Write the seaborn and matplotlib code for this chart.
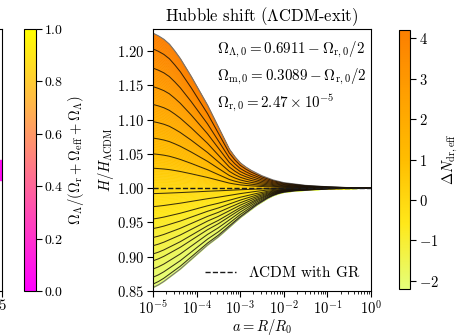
import numpy as np
import pandas as pd
import matplotlib
matplotlib.use("Agg")
import matplotlib.pyplot as plt
from matplotlib.ticker import LogLocator
import seaborn as sns

# -------------------------------------------
# data
# -------------------------------------------
log_a = [-5.0, -4.875, -4.75, -4.625, -4.5, -4.375, -4.25, -4.125,
         -4.0, -3.875, -3.75, -3.625, -3.5, -3.375, -3.25, -3.125,
         -3.0, -2.875, -2.75, -2.625, -2.5, -2.375, -2.25, -2.125,
         -2.0, -1.75, -1.5, -1.25, -1.0, -0.5, 0.0]

# upper edge of the band (largest Delta N)
h_top = [1.226, 1.222, 1.217, 1.210, 1.200, 1.189, 1.176, 1.163,
         1.149, 1.135, 1.121, 1.105, 1.089, 1.073, 1.057, 1.046,
         1.037, 1.031, 1.026, 1.022, 1.018, 1.015, 1.012, 1.010,
         1.008, 1.006, 1.004, 1.003, 1.002, 1.0007, 1.0]

# lower edge of the band (smallest Delta N)
h_bot = [0.855, 0.859, 0.864, 0.870, 0.876, 0.882, 0.889, 0.896,
         0.903, 0.910, 0.917, 0.923, 0.929, 0.936, 0.943, 0.950,
         0.957, 0.963, 0.969, 0.975, 0.980, 0.985, 0.989, 0.992,
         0.994, 0.996, 0.997, 0.998, 0.999, 0.9997, 1.0]

# black curves: value of H/H_LCDM at a = 1e-5
line_starts = [1.203, 1.175, 1.148, 1.122, 1.097, 1.073, 1.050, 1.029,
               0.992, 0.973, 0.955, 0.941, 0.928, 0.916, 0.904, 0.894,
               0.882, 0.870, 0.860]

h_lcdm = 1.0
dn_min, dn_max = -2.2, 4.2
dn_ticks = [-2, -1, 0, 1, 2, 3, 4]
frac_ticks = [0.0, 0.2, 0.4, 0.6, 0.8, 1.0]
y_ticks = [0.85, 0.90, 0.95, 1.00, 1.05, 1.10, 1.15, 1.20]
left_band = [0.425, 0.5]

# -------------------------------------------
# style
# -------------------------------------------
sns.set_theme(style="ticks")
plt.rcParams.update({
    "font.family": "serif",
    "font.serif": ["cmr10"],
    "mathtext.fontset": "cm",
    "axes.formatter.use_mathtext": True,
    "axes.unicode_minus": True,
    "font.size": 11,
    "axes.labelsize": 10,
    "axes.edgecolor": "black",
    "axes.linewidth": 0.8,
    "xtick.color": "black",
    "ytick.color": "black",
    "text.color": "black",
    "axes.labelcolor": "black",
    "xtick.major.size": 4,
    "ytick.major.size": 4,
    "xtick.minor.size": 2,
    "xtick.major.width": 0.8,
    "ytick.major.width": 0.8,
    "xtick.minor.width": 0.6,
    "xtick.major.pad": 2,
    "ytick.major.pad": 2.5,
    "xtick.labelsize": 10.5,
    "ytick.labelsize": 10.5,
})

a = 10.0 ** np.array(log_a)
top = np.array(h_top)
bot = np.array(h_bot)


def curve(h0):
    if h0 >= h_lcdm:
        return 1 + (h0 - 1) / (top[0] - 1) * (top - 1)
    return 1 - (1 - h0) / (1 - bot[0]) * (1 - bot)


def dn_of(h0):
    if h0 >= h_lcdm:
        return dn_max * (h0 - 1) / (top[0] - 1)
    return dn_min * (1 - h0) / (1 - bot[0])


W, H = 459, 336
fig = plt.figure(figsize=(W / 100, H / 100), dpi=100)
y0, hh = (H - 291) / H, 262 / H
ax = fig.add_axes([153 / W, y0, 218 / W, hh])

cmap = plt.get_cmap("Wistia")
norm = plt.Normalize(dn_min, dn_max)

# colour band
levels = np.linspace(bot[0], top[0], 161)
for lo, hi in zip(levels[:-1], levels[1:]):
    c = cmap(norm(dn_of(0.5 * (lo + hi))))
    ax.fill_between(a, curve(lo), curve(hi), color=c, lw=0.4, zorder=1)

ax.plot(a, top, color="0.45", lw=0.8, zorder=2)
ax.plot(a, bot, color="0.45", lw=0.8, zorder=2)

rows = []
for i, h0 in enumerate(line_starts):
    for ai, hi in zip(a, curve(h0)):
        rows.append((i, ai, hi))
df = pd.DataFrame(rows, columns=["curve", "a", "H"])
sns.lineplot(data=df, x="a", y="H", units="curve", estimator=None,
             color="#1a1208", lw=0.75, alpha=0.85, ax=ax, legend=False, zorder=3)

ax.axhline(h_lcdm, color="k", ls="--", lw=1.0, zorder=4,
           label=r"$\Lambda$CDM with GR")

ax.set_xscale("log")
ax.set_xlim(1e-5, 1)
ax.xaxis.set_major_locator(LogLocator(base=10, numticks=12))
ax.xaxis.set_minor_locator(LogLocator(base=10, subs=np.arange(2, 10), numticks=12))
ax.set_ylim(0.85, 1.232)
ax.set_yticks(y_ticks)
ax.set_xlabel(r"$a = R/R_0$", fontsize=10.5)
ax.set_ylabel(r"$H/H_{\Lambda\mathrm{CDM}}$", fontsize=10.5)
ax.xaxis.set_label_coords(0.5, -0.1)
ax.yaxis.set_label_coords(-0.17, 0.5)
ax.set_title(r"Hubble shift ($\Lambda$CDM-exit)", fontsize=12, pad=6)

ax.text(0.294, 0.920, r"$\Omega_{\Lambda,0} = 0.6911 - \Omega_{\mathrm{r},0}/2$",
        transform=ax.transAxes, va="center", fontsize=10.8)
ax.text(0.294, 0.817, r"$\Omega_{\mathrm{m},0} = 0.3089 - \Omega_{\mathrm{r},0}/2$",
        transform=ax.transAxes, va="center", fontsize=10.8)
ax.text(0.294, 0.718, r"$\Omega_{\mathrm{r},0} = 2.47 \times 10^{-5}$",
        transform=ax.transAxes, va="center", fontsize=10.8)

ax.legend(loc="lower right", frameon=False, handlelength=2.0,
          fontsize=11, borderaxespad=0.3)

# left colorbar (fraction)
cax1 = fig.add_axes([24 / W, y0, 12 / W, hh])
sm1 = plt.cm.ScalarMappable(norm=plt.Normalize(0, 1), cmap="spring")
cb1 = fig.colorbar(sm1, cax=cax1, ticks=frac_ticks)
cb1.ax.tick_params(labelsize=10, pad=2)
cb1.set_label(r"$\Omega_\Lambda/(\Omega_\mathrm{r}+\Omega_\mathrm{eff}+\Omega_\Lambda)$",
              fontsize=10.5)
cax1.yaxis.set_label_coords(3.5, 0.5)
cb1.outline.set_linewidth(0.8)

# right colorbar (Delta N)
cax2 = fig.add_axes([399 / W, (H - 289) / H, 11 / W, 259 / H])
sm2 = plt.cm.ScalarMappable(norm=norm, cmap=cmap)
cb2 = fig.colorbar(sm2, cax=cax2, ticks=dn_ticks)
cb2.ax.tick_params(labelsize=10.5, pad=2.5)
cb2.set_label(r"$\Delta N_{\mathrm{dr,eff}}$", fontsize=10.5)
cax2.yaxis.set_label_coords(3.8, 0.5)
cb2.outline.set_linewidth(0.8)

# sliver of the neighbouring panel
ax0 = fig.add_axes([-0.5, y0, 0.5 + 1.5 / W, hh])
ax0.set_xlim(0, 1)
ax0.set_ylim(0, 1)
ax0.axhspan(left_band[0], left_band[1], xmin=0.99, xmax=1.0,
            color=plt.get_cmap("spring")(0.05))
ax0.set_yticks([])
ax0.set_xticks([1.0])
ax0.set_xticklabels(["5"])

fig.savefig("out.png", dpi=100)
